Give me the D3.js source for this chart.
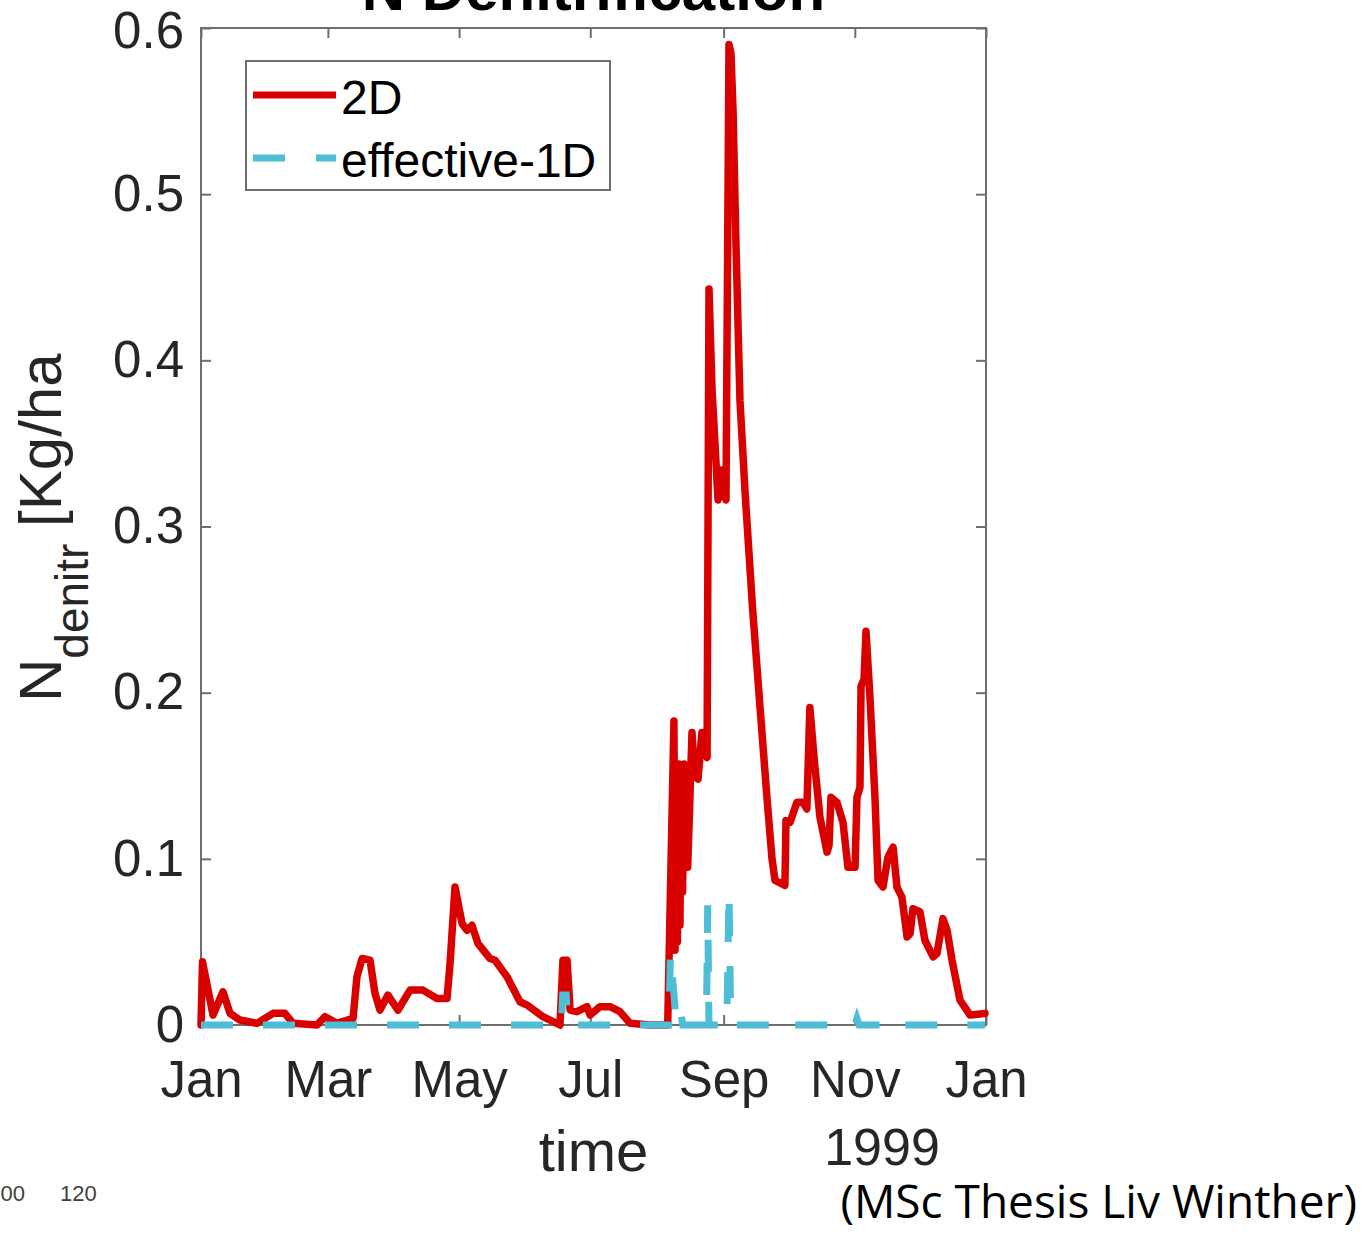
<!DOCTYPE html>
<html>
<head>
<meta charset="utf-8">
<script src="https://cdn.jsdelivr.net/npm/d3@7"></script>
<style>
body { margin: 0; background: #fff; }
svg { display: block; font-family: "Liberation Sans", Arial, sans-serif; }
</style>
</head>
<body>
<svg id="chart"></svg>
<script>
// days since 1 Jan 1999 and the denitrification values (kg/ha)
const redDays = [0, 0.7, 5.6, 10.2, 13.5, 18.1, 26, 33.5, 39, 42.8, 53.9, 57.7, 63.2, 70.7, 72.5, 74.9,
    78.6, 80.9, 83.2, 86.9, 91.6, 97.2, 103.2, 109.7, 114.4, 115.8, 118.1, 121.4, 123.7, 126, 128.8,
    134.4, 136.7, 142.3, 148.3, 151.6, 159, 166.9, 168.3, 170.2, 171.6, 174.8, 179.5, 180.9, 185.5,
    190.2, 194.8, 199.5, 208.8, 217.0, 219.9, 220.4, 221.0, 221.5, 222.2, 222.7, 223.3, 223.9, 224.6,
    225.3, 226.3, 228.3, 229.5, 231.1, 232.9, 234.5, 235.3, 236.2, 237.6, 240.4, 241.0, 241.8, 243.5,
    244.1, 245.5, 246.4, 247.4, 248.8, 250.6, 253.0, 256.5, 260.0, 263.2, 265.5, 266.9, 271.5, 272.0, 273.9,
    277.1, 279.9, 281.7, 283.1, 285.4, 287.8, 291.1, 292.0, 292.9, 295.7, 298.5, 300.8, 304.1, 305.0,
    306.4, 306.9, 308.3, 309.2, 311.1, 313.4, 314.8, 317.1, 319.4, 321.8, 323.6, 325.9, 328.3, 329.7,
    331.0, 334.3, 336.6, 340.4, 342.2, 345.0, 346.9, 349.2, 352.9, 357.6, 362.2, 364.5];
const redValues = [0, 0.038, 0.006, 0.020, 0.007, 0.003, 0.001, 0.007, 0.007, 0.001, 0, 0.005, 0.001, 0.004, 0.029, 0.040,
    0.039, 0.019, 0.009, 0.018, 0.009, 0.021, 0.021, 0.016, 0.016, 0.037, 0.083, 0.061, 0.057, 0.060, 0.049,
    0.040, 0.039, 0.029, 0.014, 0.012, 0.005, 0.000, 0.039, 0.039, 0.009, 0.008, 0.011, 0.006, 0.011,
    0.011, 0.008, 0.001, 0, 0, 0.183, 0.045, 0.14, 0.05, 0.157, 0.06, 0.155, 0.08, 0.157,
    0.095, 0.095, 0.176, 0.150, 0.148, 0.176, 0.163, 0.161, 0.443, 0.383, 0.316, 0.320, 0.334, 0.318,
    0.316, 0.590, 0.585, 0.550, 0.467, 0.376, 0.320, 0.250, 0.190, 0.136, 0.100, 0.087, 0.084, 0.123, 0.122,
    0.134, 0.134, 0.130, 0.191, 0.156, 0.125, 0.104, 0.108, 0.137, 0.134, 0.122, 0.095, 0.095, 0.137,
    0.143, 0.204, 0.208, 0.237, 0.196, 0.136, 0.087, 0.083, 0.101, 0.107, 0.083, 0.077, 0.053, 0.055,
    0.070, 0.068, 0.051, 0.041, 0.043, 0.064, 0.057, 0.039, 0.015, 0.006, 0.0066, 0.007];

const blueDays = [0, 167.5, 168.2, 169.8, 170.5, 217.5, 218.3, 220.8, 221.5, 222.5, 223.3, 224.0,
    235.0, 235.6, 236.2, 244.5, 245.5, 246.2, 247.0, 248.0, 271.0, 272.0, 273.0,
    304.0, 305.0, 306.0, 322.5, 323.3, 324.0, 364.5];
const blueValues = [0, 0, 0.018, 0.018, 0, 0, 0.043, 0.005, 0, 0, 0.006, 0,
    0, 0.072, 0, 0, 0.080, 0.012, 0.010, 0, 0, 0.002, 0,
    0, 0.004, 0, 0, 0.002, 0, 0];

const monthTicks = ['1999-01-01', '1999-03-01', '1999-05-01', '1999-07-01', '1999-09-01', '1999-11-01', '2000-01-01'];
const monthLabels = ['Jan', 'Mar', 'May', 'Jul', 'Sep', 'Nov', 'Jan'];
const yTicks = [0, 0.1, 0.2, 0.3, 0.4, 0.5, 0.6];
const yTickLabels = ['0', '0.1', '0.2', '0.3', '0.4', '0.5', '0.6'];
const seriesNames = ['2D', 'effective-1D'];

class DenitChart {
    constructor(_config){
        this.config = {
            parentElement: _config.parentElement,
            containerWidth: 1365,
            containerHeight: 1245,
            margin: { top: 28, right: 379, left: 201, bottom: 220 }
        }
        this.initVis();
    }

    initVis(){
        let vis = this;

        vis.width = vis.config.containerWidth - vis.config.margin.left - vis.config.margin.right;
        vis.height = vis.config.containerHeight - vis.config.margin.top - vis.config.margin.bottom;

        vis.svg = d3.select(vis.config.parentElement)
            .attr('width', vis.config.containerWidth)
            .attr('height', vis.config.containerHeight);

        vis.chart = vis.svg.append('g')
            .attr('transform', `translate(${vis.config.margin.left}, ${vis.config.margin.top})`);

        const start = Date.UTC(1999, 0, 1);
        const toDate = d => new Date(start + d * 864e5);

        vis.xScale = d3.scaleUtc()
            .domain([new Date(start), new Date(Date.UTC(2000, 0, 1))])
            .range([0, vis.width]);

        vis.yScale = d3.scaleLinear()
            .domain([0, 0.6])
            .range([vis.height, 0]);

        const tickDates = monthTicks.map(s => new Date(s + 'T00:00:00Z'));

        // matlab style box: ticks point inward on all four sides
        const xBottom = d3.axisBottom(vis.xScale).tickValues(tickDates)
            .tickFormat((d, i) => monthLabels[i]).tickSizeInner(-10).tickSizeOuter(0).tickPadding(36);
        const xTop = d3.axisTop(vis.xScale).tickValues(tickDates)
            .tickFormat('').tickSizeInner(-10).tickSizeOuter(0);
        const yLeft = d3.axisLeft(vis.yScale).tickValues(yTicks)
            .tickFormat((d, i) => yTickLabels[i]).tickSizeInner(-10).tickSizeOuter(0).tickPadding(17);
        const yRight = d3.axisRight(vis.yScale).tickValues(yTicks)
            .tickFormat('').tickSizeInner(-10).tickSizeOuter(0);

        const styleAxis = g => {
            g.select('.domain').remove();
            g.selectAll('.tick line').attr('stroke', '#6e6e6e').attr('stroke-width', 2);
            g.selectAll('.tick text').attr('fill', '#262626').style('font-size', '51px')
                .style('font-family', '"Liberation Sans", Arial, sans-serif');
        };

        vis.chart.append('g').attr('transform', `translate(0, ${vis.height})`).call(xBottom).call(styleAxis);
        vis.chart.append('g').call(xTop).call(styleAxis);
        vis.chart.append('g').call(yLeft).call(styleAxis);
        vis.chart.append('g').attr('transform', `translate(${vis.width}, 0)`).call(yRight).call(styleAxis);

        // nudge the top label down a little, as in the original
        vis.chart.selectAll('.tick text').filter(d => d === 0.6).attr('y', 3);

        vis.chart.append('rect')
            .attr('width', vis.width)
            .attr('height', vis.height)
            .attr('fill', 'none')
            .attr('stroke', '#6e6e6e')
            .attr('stroke-width', 2);

        //the two series
        const line = d3.line()
            .x(d => vis.xScale(toDate(d[0])))
            .y(d => vis.yScale(d[1]));

        vis.chart.append('path')
            .datum(redDays.map((d, i) => [d, redValues[i]]))
            .attr('fill', 'none')
            .attr('stroke', '#d90000')
            .attr('stroke-width', 7.5)
            .attr('stroke-linejoin', 'round')
            .attr('stroke-linecap', 'round')
            .attr('d', line);

        vis.chart.append('path')
            .datum(blueDays.map((d, i) => [d, blueValues[i]]))
            .attr('fill', 'none')
            .attr('stroke', '#4dbed6')
            .attr('stroke-width', 7)
            .attr('stroke-dasharray', '32,30')
            .attr('d', line);

        // title (cut off at the top in the original)
        vis.svg.append('text')
            .attr('x', vis.config.margin.left + vis.width / 2)
            .attr('y', 10)
            .attr('text-anchor', 'middle')
            .attr('font-weight', 'bold')
            .style('font-size', '60px')
            .attr('fill', '#000')
            .text('N Denitrification');

        // axis labels
        vis.svg.append('text')
            .attr('x', vis.config.margin.left + vis.width / 2)
            .attr('y', 1171)
            .attr('text-anchor', 'middle')
            .style('font-size', '58px')
            .attr('fill', '#262626')
            .text('time');

        vis.svg.append('text')
            .attr('x', 882)
            .attr('y', 1165)
            .attr('text-anchor', 'middle')
            .style('font-size', '52px')
            .attr('fill', '#262626')
            .text('1999');

        const ylab = vis.svg.append('text')
            .attr('transform', 'translate(61, 702) rotate(-90)')
            .style('font-size', '60px')
            .attr('fill', '#262626');
        ylab.append('tspan').text('N');
        ylab.append('tspan').attr('dy', 27).style('font-size', '46px').text('denitr');
        ylab.append('tspan').attr('dy', -27).text(' [Kg/ha');

        //legend
        const legend = vis.svg.append('g').attr('transform', 'translate(246, 61)');
        legend.append('rect')
            .attr('width', 364)
            .attr('height', 129)
            .attr('fill', '#fff')
            .attr('stroke', '#6e6e6e')
            .attr('stroke-width', 2);
        const legendStyles = [
            { color: '#d90000', dash: null, y: 34 },
            { color: '#4dbed6', dash: '32,31', y: 97 }
        ];
        seriesNames.forEach((name, i) => {
            const s = legendStyles[i];
            legend.append('line')
                .attr('x1', 7).attr('x2', 90)
                .attr('y1', s.y).attr('y2', s.y)
                .attr('stroke', s.color)
                .attr('stroke-width', 7)
                .attr('stroke-dasharray', s.dash);
            legend.append('text')
                .attr('x', 95)
                .attr('y', s.y + 19)
                .style('font-size', '48px')
                .attr('fill', '#000')
                .text(name);
        });

        // leftovers from the slide
        vis.svg.append('text')
            .attr('x', 25).attr('y', 1201)
            .attr('text-anchor', 'end')
            .style('font-size', '22px')
            .attr('fill', '#404040')
            .text('100');
        vis.svg.append('text')
            .attr('x', 60).attr('y', 1201)
            .style('font-size', '22px')
            .attr('fill', '#404040')
            .text('120');

        vis.svg.append('text')
            .attr('x', 1357).attr('y', 1218)
            .attr('text-anchor', 'end')
            .style('font-family', '"Open Sans", "Noto Sans", sans-serif')
            .style('font-size', '46px')
            .attr('fill', '#000')
            .text('(MSc Thesis Liv Winther)');
    }
}

new DenitChart({ parentElement: '#chart' });
</script>
</body>
</html>
